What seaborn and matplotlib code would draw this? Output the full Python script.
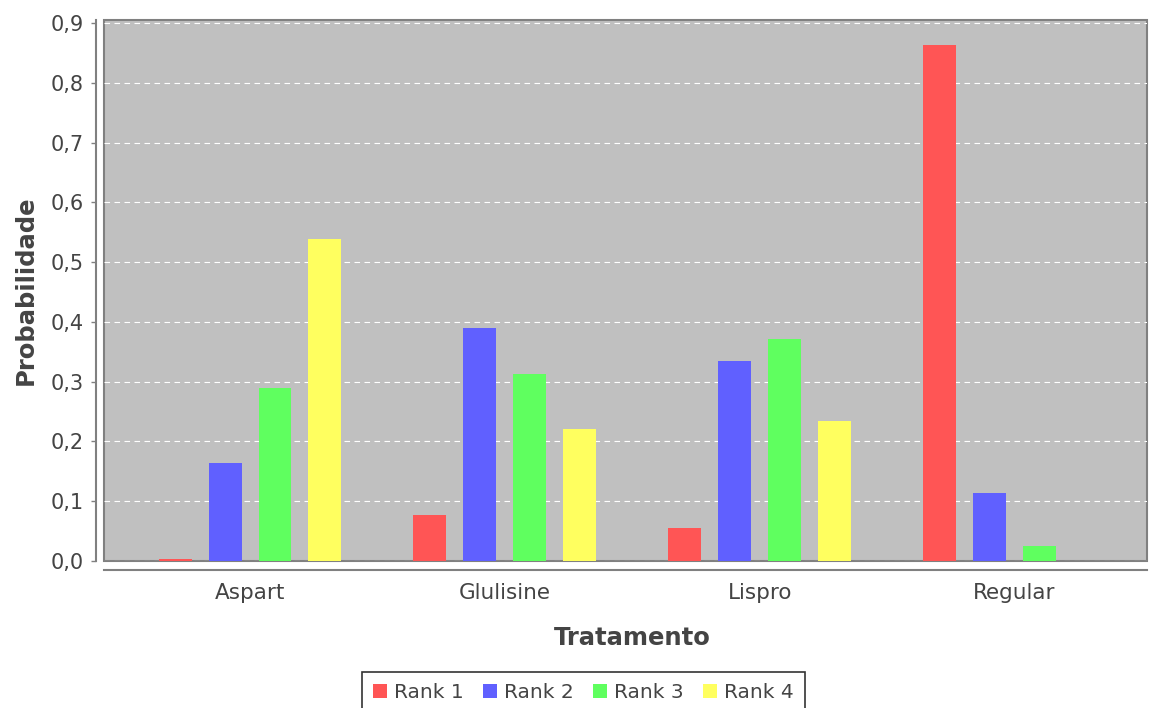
import matplotlib
matplotlib.use('Agg')
import matplotlib.pyplot as plt
import seaborn as sns
import pandas as pd
from matplotlib.ticker import FuncFormatter

# Data
treatments = ['Aspart', 'Glulisine', 'Lispro', 'Regular']
ranks = ['Rank 1', 'Rank 2', 'Rank 3', 'Rank 4']
rank1 = [0.003, 0.077, 0.055, 0.863]
rank2 = [0.164, 0.389, 0.334, 0.113]
rank3 = [0.290, 0.312, 0.372, 0.025]
rank4 = [0.539, 0.220, 0.235, 0.000]
colors = ['#FF5555', '#6060FF', '#5FFF5F', '#FFFF5F']

rows = []
for rank, vals in zip(ranks, [rank1, rank2, rank3, rank4]):
    for t, v in zip(treatments, vals):
        rows.append({'Tratamento': t, 'Rank': rank, 'Probabilidade': v})
df = pd.DataFrame(rows)

sns.set_theme(style='white')
plt.rcParams['font.family'] = ['DejaVu Sans']

fig = plt.figure(figsize=(11.49, 7.08), dpi=100)
ax = fig.add_axes([104 / 1149, 147 / 708, 1043 / 1149, 541 / 708])

sns.barplot(data=df, x='Tratamento', y='Probabilidade', hue='Rank',
            order=treatments, hue_order=ranks, palette=colors,
            width=0.784, gap=0.34, saturation=1, linewidth=0, ax=ax)

ax.set_facecolor('#C0C0C0')
ax.patch.set_edgecolor('#808080')
ax.patch.set_linewidth(1.5)
ax.set_xlim(-0.573, 3.52)
ax.set_ylim(0, 0.905)
ax.set_yticks([i / 10 for i in range(10)])
ax.yaxis.set_major_formatter(FuncFormatter(lambda v, p: f'{v:.1f}'.replace('.', ',')))
ax.yaxis.grid(True, color='white', linestyle=(0, (5, 4)), linewidth=0.8)
ax.set_axisbelow(True)

for s in ['top', 'right']:
    ax.spines[s].set_visible(False)
ax.spines['left'].set_position(('outward', 6))
ax.spines['bottom'].set_position(('outward', 6.5))
for s in ['left', 'bottom']:
    ax.spines[s].set_color('#808080')
    ax.spines[s].set_linewidth(1.5)

ax.tick_params(axis='y', length=3.5, width=1, color='#808080', pad=5,
               labelsize=15, labelcolor='#444444', left=True)
ax.tick_params(axis='x', length=0, pad=9, labelsize=15.5, labelcolor='#444444')

ax.set_xlabel('Tratamento', fontsize=17.5, fontweight='bold', color='#444444', labelpad=17)
ax.xaxis.label.set_x(0.507)
ax.set_ylabel('Probabilidade', fontsize=17.5, fontweight='bold', color='#444444', labelpad=9)

handles, labels = ax.get_legend_handles_labels()
ax.get_legend().remove()
leg = fig.legend(handles, labels, loc='upper center', bbox_to_anchor=(0.508, 1 - 672 / 708),
                 ncol=4, frameon=True, fancybox=False, edgecolor='black', fontsize=14.5,
                 handlelength=0.7, handleheight=0.7, handletextpad=0.35,
                 columnspacing=0.95, borderpad=0.55, borderaxespad=0)
leg.get_frame().set_linewidth(1.2)
for t in leg.get_texts():
    t.set_color('#444444')

fig.savefig('out.png', dpi=100, facecolor='white')
